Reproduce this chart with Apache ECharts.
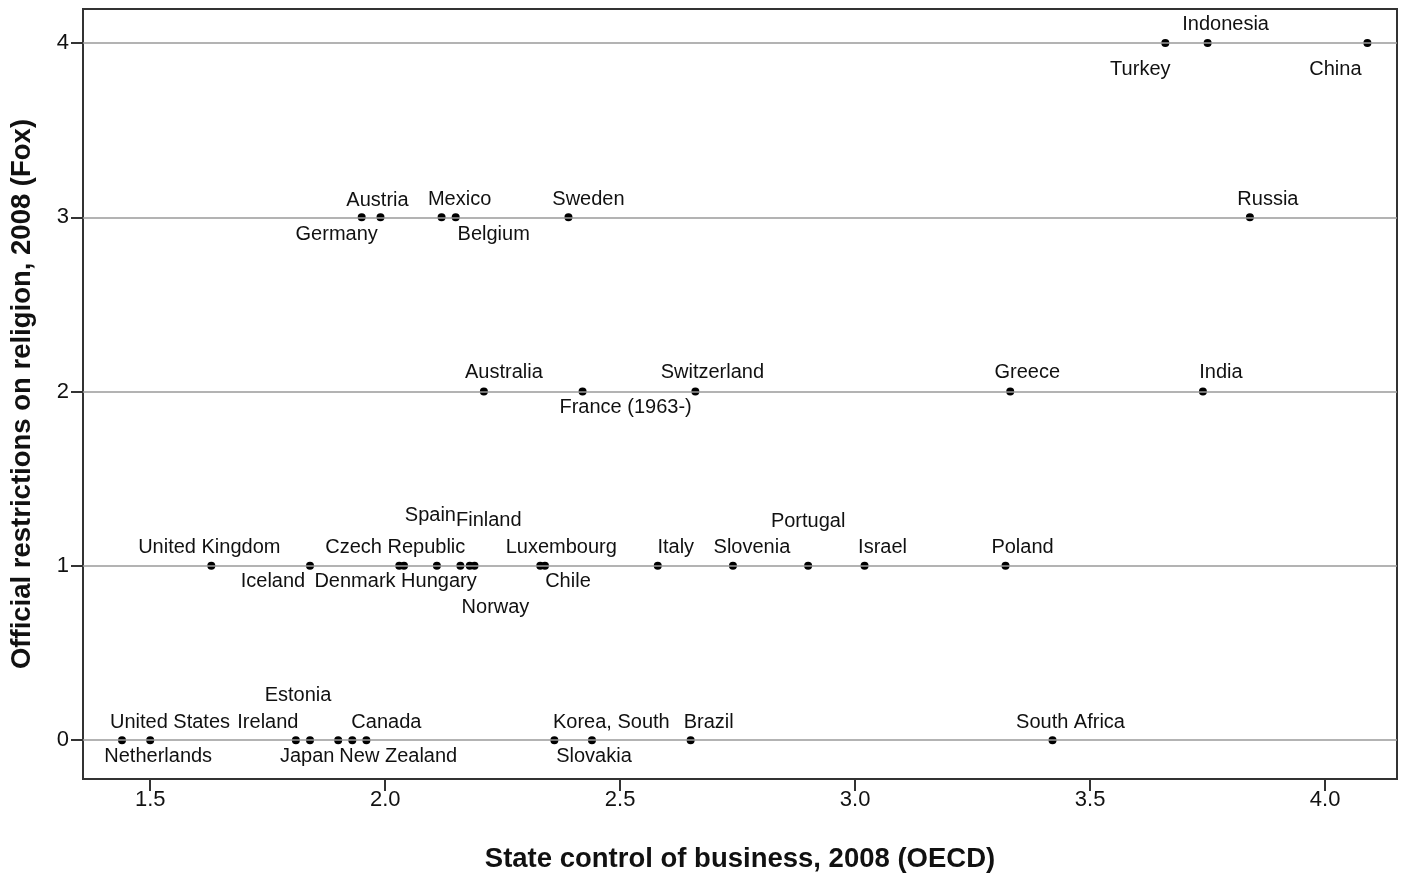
<!DOCTYPE html>
<html>
<head>
<meta charset="utf-8">
<script src="https://cdn.jsdelivr.net/npm/echarts@6/dist/echarts.min.js"></script>
<style>
  html, body { margin: 0; padding: 0; background: #ffffff; }
  #chart { width: 1410px; height: 875px; }
</style>
</head>
<body>
<div id="chart"></div>
<script>
// Countries, their OECD state-control score (x) and Fox religion-restriction score (y)
const countries = [
  'United States', 'Netherlands', 'Ireland', 'Estonia', 'Japan', 'New Zealand', 'Canada',
  'Korea, South', 'Slovakia', 'Brazil', 'South Africa',
  'United Kingdom', 'Iceland', 'Czech Republic', 'Denmark', 'Hungary', 'Spain', 'Finland',
  'Norway', 'Luxembourg', 'Chile', 'Italy', 'Slovenia', 'Portugal', 'Israel', 'Poland',
  'Australia', 'France (1963-)', 'Switzerland', 'Greece', 'India',
  'Germany', 'Austria', 'Mexico', 'Belgium', 'Sweden', 'Russia',
  'Turkey', 'Indonesia', 'China'
];
const stateControl = [
  1.44, 1.50, 1.81, 1.84, 1.90, 1.93, 1.96,
  2.36, 2.44, 2.65, 3.42,
  1.63, 1.84, 2.03, 2.04, 2.11, 2.16, 2.18,
  2.19, 2.33, 2.34, 2.58, 2.74, 2.90, 3.02, 3.32,
  2.21, 2.42, 2.66, 3.33, 3.74,
  1.95, 1.99, 2.12, 2.15, 2.39, 3.84,
  3.66, 3.75, 4.09
];
const religionRestrictions = [
  0, 0, 0, 0, 0, 0, 0,
  0, 0, 0, 0,
  1, 1, 1, 1, 1, 1, 1,
  1, 1, 1, 1, 1, 1, 1, 1,
  2, 2, 2, 2, 2,
  3, 3, 3, 3, 3, 3,
  4, 4, 4
];
const xTicks = [1.5, 2.0, 2.5, 3.0, 3.5, 4.0];
const yTicks = [0, 1, 2, 3, 4];

// Where each country's name sits relative to its point: [dx, dy] in pixels
const labelOffsets = {
  'United States': [48, -18], 'Netherlands': [8, 16], 'Ireland': [-28, -18],
  'Estonia': [-12, -45], 'Japan': [-31, 16], 'New Zealand': [46, 16],
  'Canada': [20, -18], 'Korea, South': [57, -18], 'Slovakia': [2, 16],
  'Brazil': [18, -18], 'South Africa': [18, -18],
  'United Kingdom': [-2, -18], 'Iceland': [-37, 16], 'Czech Republic': [-4, -18],
  'Denmark': [-49, 16], 'Hungary': [2, 16], 'Spain': [-30, -50],
  'Finland': [19, -45], 'Norway': [21, 42], 'Luxembourg': [21, -18],
  'Chile': [23, 16], 'Italy': [18, -18], 'Slovenia': [19, -18],
  'Portugal': [0, -44], 'Israel': [18, -18], 'Poland': [17, -18],
  'Australia': [20, -19], 'France (1963-)': [43, 16], 'Switzerland': [17, -19],
  'Greece': [17, -19], 'India': [18, -19],
  'Germany': [-25, 17], 'Austria': [-3, -17], 'Mexico': [18, -18],
  'Belgium': [38, 17], 'Sweden': [20, -18], 'Russia': [18, -18],
  'Turkey': [-25, 26], 'Indonesia': [18, -19], 'China': [-32, 26]
};

const points = countries.map((name, i) => ({
  name: name,
  value: [stateControl[i], religionRestrictions[i]]
}));

const chart = echarts.init(document.getElementById('chart'), null, { renderer: 'canvas' });

const textFont = '"Liberation Sans", Arial, sans-serif';

chart.setOption({
  animation: false,
  backgroundColor: '#ffffff',
  grid: {
    left: 83, right: 13, top: 9, bottom: 96,
    outerBoundsMode: 'none',
    containLabel: false,
    show: true, borderColor: '#333333', borderWidth: 2, backgroundColor: '#ffffff'
  },
  xAxis: {
    type: 'value',
    min: 1.357,
    max: 4.153,
    name: 'State control of business, 2008 (OECD)',
    nameLocation: 'middle',
    nameGap: 66,
    nameTextStyle: { fontFamily: textFont, fontWeight: 'bold', fontSize: 27.5, color: '#111111' },
    axisLine: { show: true, onZero: false, lineStyle: { color: '#333333', width: 2 } },
    axisTick: { show: true, customValues: xTicks, length: 12, lineStyle: { color: '#333333', width: 2 } },
    axisLabel: {
      customValues: xTicks,
      formatter: v => Number(v).toFixed(1),
      fontFamily: textFont, fontSize: 22, color: '#111111', margin: 10
    },
    splitLine: { show: false }
  },
  yAxis: {
    type: 'value',
    min: -0.223,
    max: 4.195,
    name: 'Official restrictions on religion, 2008 (Fox)',
    nameLocation: 'middle',
    nameGap: 47,
    nameRotate: 90,
    nameTextStyle: { fontFamily: textFont, fontWeight: 'bold', fontSize: 27.5, color: '#111111' },
    axisLine: { show: true, onZero: false, lineStyle: { color: '#333333', width: 2 } },
    axisTick: { show: true, customValues: yTicks, length: 12, lineStyle: { color: '#333333', width: 2 } },
    axisLabel: {
      customValues: yTicks,
      fontFamily: textFont, fontSize: 22, color: '#111111', margin: 14
    },
    splitLine: { show: false }
  },
  series: [{
    type: 'scatter',
    data: points,
    symbol: 'circle',
    symbolSize: 8,
    itemStyle: { color: '#000000', opacity: 1 },
    label: {
      show: true,
      formatter: '{b}',
      position: 'inside',
      align: 'center',
      verticalAlign: 'middle',
      fontFamily: textFont,
      fontSize: 20,
      color: '#111111',
      opacity: 1,
      textBorderWidth: 0
    },
    labelLayout: function (params) {
      const name = countries[params.dataIndex];
      const off = labelOffsets[name] || [0, -18];
      return { dx: off[0], dy: off[1], hideOverlap: false, moveOverlap: null };
    },
    emphasis: { disabled: true },
    markLine: {
      silent: true,
      symbol: ['none', 'none'],
      label: { show: false },
      lineStyle: { color: '#9a9a9a', type: 'solid', width: 1.5 },
      emphasis: { disabled: true },
      data: yTicks.map(v => ({ yAxis: v }))
    }
  }]
});
</script>
</body>
</html>
